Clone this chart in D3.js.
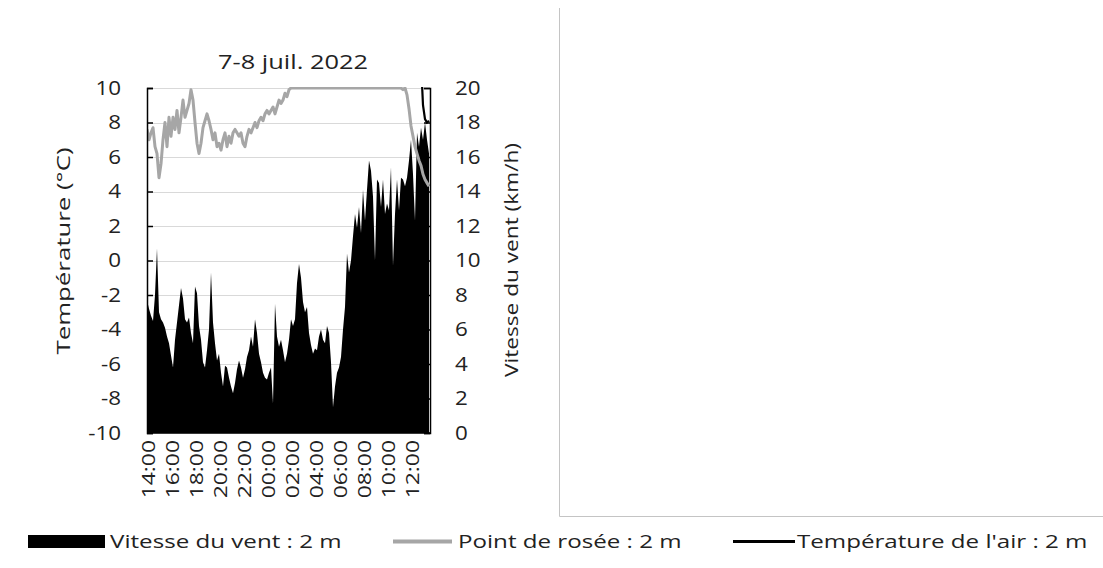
<!DOCTYPE html>
<html><head><meta charset="utf-8">
<script src="https://cdn.jsdelivr.net/npm/d3@7"></script>
<style>
html,body{margin:0;padding:0;background:#fff;}
text{font-family:"Open Sans",sans-serif;fill:#222;}
</style></head>
<body>
<svg id="chart" width="1103" height="568"></svg>
<script>
// ---- data (10-minute steps starting 7 juil. 2022 14:00) ----
const startTime = new Date(2022, 6, 7, 14, 0);
const stepMinutes = 10;
const windSpeed = [7.7,7.2,6.8,6.5,8.0,10.7,7.0,6.6,6.4,6.1,5.6,5.2,4.5,3.8,5.4,6.4,7.4,8.4,7.8,6.6,
  6.4,6.7,5.8,5.2,8.5,8.1,6.2,5.4,4.1,3.8,4.8,6.0,9.3,6.4,5.2,4.2,4.6,3.5,2.7,3.9,
  3.8,3.2,2.7,2.3,2.9,3.7,4.2,3.8,3.2,3.7,4.4,4.8,5.6,5.0,6.6,5.8,4.6,4.1,3.5,3.2,
  3.1,3.5,3.8,1.7,7.5,5.6,5.0,5.4,4.8,4.1,4.6,5.4,6.6,6.2,6.6,8.7,9.8,9.0,7.6,7.0,
  7.3,5.8,5.1,4.6,4.9,4.8,5.6,6.0,5.4,5.2,6.2,5.8,4.1,1.5,2.7,3.5,3.8,4.4,6.0,7.3,
  10.4,9.3,10.0,11.4,12.7,11.9,13.1,11.6,14.1,12.3,14.1,15.8,15.2,13.7,10.0,14.7,14.5,13.1,14.7,12.7,
  13.3,12.9,15.4,9.7,12.7,14.7,12.9,14.8,14.7,14.3,14.8,15.8,17.0,15.0,12.3,17.4,16.6,17.7,17.0,18.0,
  17.0,16.2];
const dewPoint = [7.6,7.0,7.4,7.7,6.6,6.2,4.8,5.6,7.0,8.0,6.6,8.3,7.2,8.3,7.6,8.7,7.4,8.3,9.3,8.3,
  8.7,9.1,9.9,9.3,8.0,6.8,6.2,6.8,7.7,8.1,8.5,8.1,7.6,7.0,7.4,6.6,6.8,6.4,7.0,7.4,
  6.6,7.2,6.8,7.4,7.6,7.4,7.2,7.4,6.8,6.6,7.2,7.6,7.4,7.7,8.0,7.7,8.1,8.3,8.1,8.5,
  8.7,8.5,8.7,8.9,8.5,8.9,9.3,9.1,9.3,9.7,9.5,9.9,10.0,10.0,10.0,10.0,10.0,10.0,10.0,10.0,
  10.0,10.0,10.0,10.0,10.0,10.0,10.0,10.0,10.0,10.0,10.0,10.0,10.0,10.0,10.0,10.0,10.0,10.0,10.0,10.0,
  10.0,10.0,10.0,10.0,10.0,10.0,10.0,10.0,10.0,10.0,10.0,10.0,10.0,10.0,10.0,10.0,10.0,10.0,10.0,10.0,
  10.0,10.0,10.0,10.0,10.0,10.0,10.0,10.0,9.9,10.0,9.6,8.8,7.8,7.2,6.6,6.2,5.8,5.5,5.0,4.7,
  4.5,4.3];
// air temperature: above the 10 °C axis maximum (not visible) except at the very end
const airTempTail = [11.5, 9.0, 8.2, 8.0, 8.1];
const airTemp = windSpeed.map(() => null);
airTempTail.forEach((v, k) => { airTemp[airTemp.length - airTempTail.length + k] = v; });

const leftTicks = [-10,-8,-6,-4,-2,0,2,4,6,8,10];
const rightTicks = [0,2,4,6,8,10,12,14,16,18,20];
const timeTickLabels = ["14:00","16:00","18:00","20:00","22:00","00:00","02:00","04:00","06:00","08:00","10:00","12:00"];
const title = "7-8 juil. 2022";
const leftTitle = "Température (°C)";
const rightTitle = "Vitesse du vent (km/h)";
const legendItems = ["Vitesse du vent : 2 m","Point de rosée : 2 m","Température de l'air : 2 m"];

// ---- build ----
const times = windSpeed.map((_, i) => new Date(startTime.getTime() + i * stepMinutes * 60000));
const data = times.map((t, i) => ({t, w: windSpeed[i], d: dewPoint[i], a: airTemp[i]}));

const svg = d3.select("#chart");
const X0 = 147, X1 = 430, Y0 = 433, Y1 = 88;
const endTime = new Date(2022, 6, 8, 13, 35);
const x = d3.scaleTime().domain([startTime, endTime]).range([X0, X1]);
const yL = d3.scaleLinear().domain([-10, 10]).range([Y0, Y1]);
const yR = d3.scaleLinear().domain([0, 20]).range([Y0, Y1]);

function stretch(sel, factor) {
  sel.each(function() {
    const w = this.getComputedTextLength();
    d3.select(this).attr("textLength", w * factor).attr("lengthAdjust", "spacingAndGlyphs");
  });
}

// right panel frame
svg.append("line").attr("x1",559.5).attr("x2",559.5).attr("y1",8).attr("y2",516.5).attr("stroke","#c4c4c4");
svg.append("line").attr("x1",559.5).attr("x2",1103).attr("y1",516.5).attr("y2",516.5).attr("stroke","#c4c4c4");

// gridlines
svg.append("g").selectAll("line").data(leftTicks).join("line")
  .attr("x1", X0).attr("x2", X1)
  .attr("y1", d => Math.round(yL(d)) + 0.5).attr("y2", d => Math.round(yL(d)) + 0.5)
  .attr("stroke", "#d9d9d9").attr("stroke-width", 1);

svg.append("defs").append("clipPath").attr("id","plotclip")
  .append("rect").attr("x", X0).attr("y", Y1 - 1).attr("width", X1 - X0).attr("height", Y0 - Y1 + 1);

const plot = svg.append("g").attr("clip-path","url(#plotclip)");

// wind area
plot.append("path").datum(data)
  .attr("d", d3.area().x(d => x(d.t)).y0(yR(0)).y1(d => yR(d.w)))
  .attr("fill", "#000");

// dew point
plot.append("path").datum(data)
  .attr("d", d3.line().x(d => x(d.t)).y(d => yL(d.d)))
  .attr("fill", "none").attr("stroke", "#a6a6a6").attr("stroke-width", 3).attr("stroke-linejoin","round");

// air temperature
plot.append("path").datum(data)
  .attr("d", d3.line().defined(d => d.a !== null).x(d => x(d.t)).y(d => yL(d.a)))
  .attr("fill", "none").attr("stroke", "#000").attr("stroke-width", 2.2);

// axes
const axL = svg.append("g").attr("transform", `translate(${X0},0)`)
  .call(d3.axisLeft(yL).tickValues(leftTicks).tickSize(-6).tickPadding(26).tickFormat(d => String(d)));
const axR = svg.append("g").attr("transform", `translate(${X1},0)`)
  .call(d3.axisRight(yR).tickValues(rightTicks).tickSize(-6).tickPadding(25).tickFormat(d => String(d)));
[axL, axR].forEach(a => {
  a.select(".domain").attr("stroke", "#000").attr("stroke-width", 1.5);
  a.selectAll(".tick line").attr("stroke", "#000").attr("stroke-width", 1.5);
  a.selectAll(".tick text").attr("font-size", 20).attr("font-family", "Open Sans").attr("fill", "#222");
  stretch(a.selectAll(".tick text"), 1.12);
});
svg.append("line").attr("x1", X0).attr("x2", X1).attr("y1", Y0).attr("y2", Y0).attr("stroke", "#000").attr("stroke-width", 1.5);

// time axis labels
const tickTimes = timeTickLabels.map((_, k) => new Date(startTime.getTime() + k * 2 * 3600000));
const axB = svg.append("g").attr("transform", `translate(0,${Y0})`)
  .call(d3.axisBottom(x).tickValues(tickTimes).tickSize(0).tickFormat((d, i) => timeTickLabels[i]));
axB.select(".domain").remove();
axB.selectAll(".tick text")
  .attr("font-size", 18).attr("font-family", "Open Sans").attr("fill", "#222")
  .attr("transform", "rotate(-90)")
  .attr("text-anchor", "end").attr("x", -7).attr("y", 1).attr("dy", "0.36em");
stretch(axB.selectAll(".tick text"), 1.27);

// titles
svg.append("text").attr("x", 293).attr("y", 69).attr("text-anchor", "middle")
  .attr("font-size", 20).attr("textLength", 150).attr("lengthAdjust", "spacingAndGlyphs").text(title);
svg.append("text").attr("transform", "translate(70,251) rotate(-90)").attr("text-anchor", "middle")
  .attr("font-size", 19).attr("textLength", 207).attr("lengthAdjust", "spacingAndGlyphs").text(leftTitle);
svg.append("text").attr("transform", "translate(518,260) rotate(-90)").attr("text-anchor", "middle")
  .attr("font-size", 19).attr("textLength", 234).attr("lengthAdjust", "spacingAndGlyphs").text(rightTitle);

// legend
const lg = svg.append("g");
lg.append("rect").attr("x", 28).attr("y", 535).attr("width", 77).attr("height", 13).attr("fill", "#000");
lg.append("text").attr("x", 110).attr("y", 548).attr("font-size", 19).text(legendItems[0]);
lg.append("line").attr("x1", 393).attr("x2", 452).attr("y1", 541.5).attr("y2", 541.5).attr("stroke", "#a6a6a6").attr("stroke-width", 4);
lg.append("text").attr("x", 458).attr("y", 548).attr("font-size", 19).text(legendItems[1]);
lg.append("line").attr("x1", 733).attr("x2", 795).attr("y1", 541.5).attr("y2", 541.5).attr("stroke", "#000").attr("stroke-width", 3);
lg.append("text").attr("x", 797).attr("y", 548).attr("font-size", 19).text(legendItems[2]);
stretch(lg.selectAll("text"), 1.27);
</script>
</body></html>
